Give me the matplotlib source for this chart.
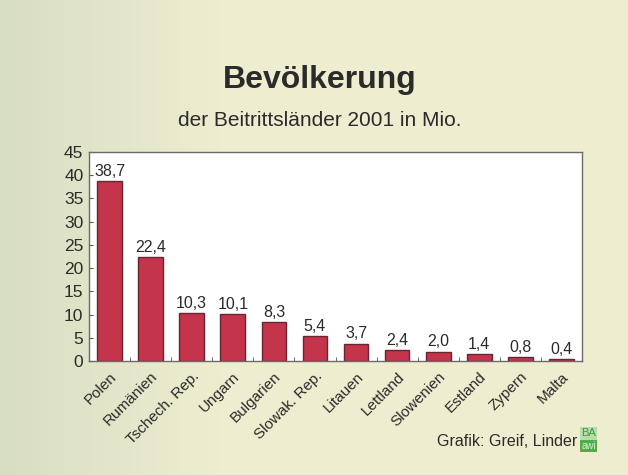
import matplotlib.pyplot as plt
import matplotlib.patches as patches
import numpy as np

# Data
countries = ["Polen", "Rumänien", "Tschech. Rep.", "Ungarn", "Bulgarien",
             "Slowak. Rep.", "Litauen", "Lettland", "Slowenien", "Estland",
             "Zypern", "Malta"]
population = [38.7, 22.4, 10.3, 10.1, 8.3, 5.4, 3.7, 2.4, 2.0, 1.4, 0.8, 0.4]
y_ticks = [0, 5, 10, 15, 20, 25, 30, 35, 40, 45]

plt.rcParams["font.family"] = ["Liberation Sans", "DejaVu Sans"]

BAR_COLOR = "#c4344b"
EDGE_COLOR = "#6b2430"
TEXT_COLOR = "#2b2b2b"

fig = plt.figure(figsize=(6.28, 4.75), dpi=100)
fig.patch.set_facecolor("#eeedd0")

# soft greenish paper tone on the left side
bg = fig.add_axes([0, 0, 1, 1], zorder=-1)
xx = np.linspace(0, 1, 200)
shade = np.clip(1 - xx / 0.35, 0, 1)[None, :] * np.ones((50, 1))
base = np.array([238, 237, 208]) / 255
green = np.array([216, 222, 194]) / 255
img = base[None, None, :] * (1 - shade[..., None]) + green[None, None, :] * shade[..., None]
bg.imshow(img, aspect="auto", extent=[0, 1, 0, 1])
bg.set_xlim(0, 1)
bg.set_ylim(0, 1)
bg.axis("off")

ax = fig.add_axes([89 / 628, 1 - 361 / 475, 493 / 628, 209 / 475])
ax.set_facecolor("white")

x = np.arange(len(countries))
ax.bar(x, population, width=0.6, color=BAR_COLOR, edgecolor=EDGE_COLOR,
       linewidth=1.0, zorder=2)

for xi, val in zip(x, population):
    ax.text(xi, val + 0.5, f"{val:.1f}".replace(".", ","), ha="center",
            va="bottom", fontsize=11.5, color=TEXT_COLOR)

ax.set_xlim(-0.5, len(countries) - 0.5)
ax.set_ylim(0, 45)
ax.set_yticks(y_ticks)
ax.set_yticklabels([str(t) for t in y_ticks], fontsize=12.5, color=TEXT_COLOR)
ax.set_xticks(x)
ax.set_xticklabels(countries, rotation=45, ha="right", rotation_mode="anchor",
                   fontsize=11, color=TEXT_COLOR)
ax.tick_params(axis="x", length=0, pad=6)
ax.set_xticks(np.arange(len(countries) + 1) - 0.5, minor=True)
ax.tick_params(axis="x", which="minor", direction="in", length=3, color="#555555")
ax.tick_params(axis="y", direction="in", length=3, color="#555555", pad=4)

for spine in ax.spines.values():
    spine.set_color("#6a6a6a")
    spine.set_linewidth(1.0)

fig.text(320 / 628, 1 - 80 / 475, "Bevölkerung", ha="center", va="center",
         fontsize=23, fontweight="bold", color=TEXT_COLOR)
fig.text(320 / 628, 1 - 121 / 475, "der Beitrittsländer 2001 in Mio.",
         ha="center", va="center", fontsize=15, color=TEXT_COLOR)

fig.text(577 / 628, 1 - 441 / 475, "Grafik: Greif, Linder", ha="right",
         va="center", fontsize=11.5, color=TEXT_COLOR)

# BA awi logo
fig.patches.append(patches.Rectangle((580 / 628, 1 - 452 / 475), 17 / 628, 12 / 475,
                                     transform=fig.transFigure, facecolor="#4fae4a",
                                     edgecolor="none"))
fig.patches.append(patches.Rectangle((580 / 628, 1 - 440 / 475), 17 / 628, 13 / 475,
                                     transform=fig.transFigure, facecolor="#b9dcae",
                                     edgecolor="none"))
fig.text(588.5 / 628, 1 - 433 / 475, "BA", ha="center", va="center", fontsize=8,
         color="#3d9a3d")
fig.text(588.5 / 628, 1 - 446 / 475, "awi", ha="center", va="center", fontsize=7,
         color="#d8efd2")

plt.savefig("out.png", dpi=100, facecolor=fig.get_facecolor())
plt.close()
